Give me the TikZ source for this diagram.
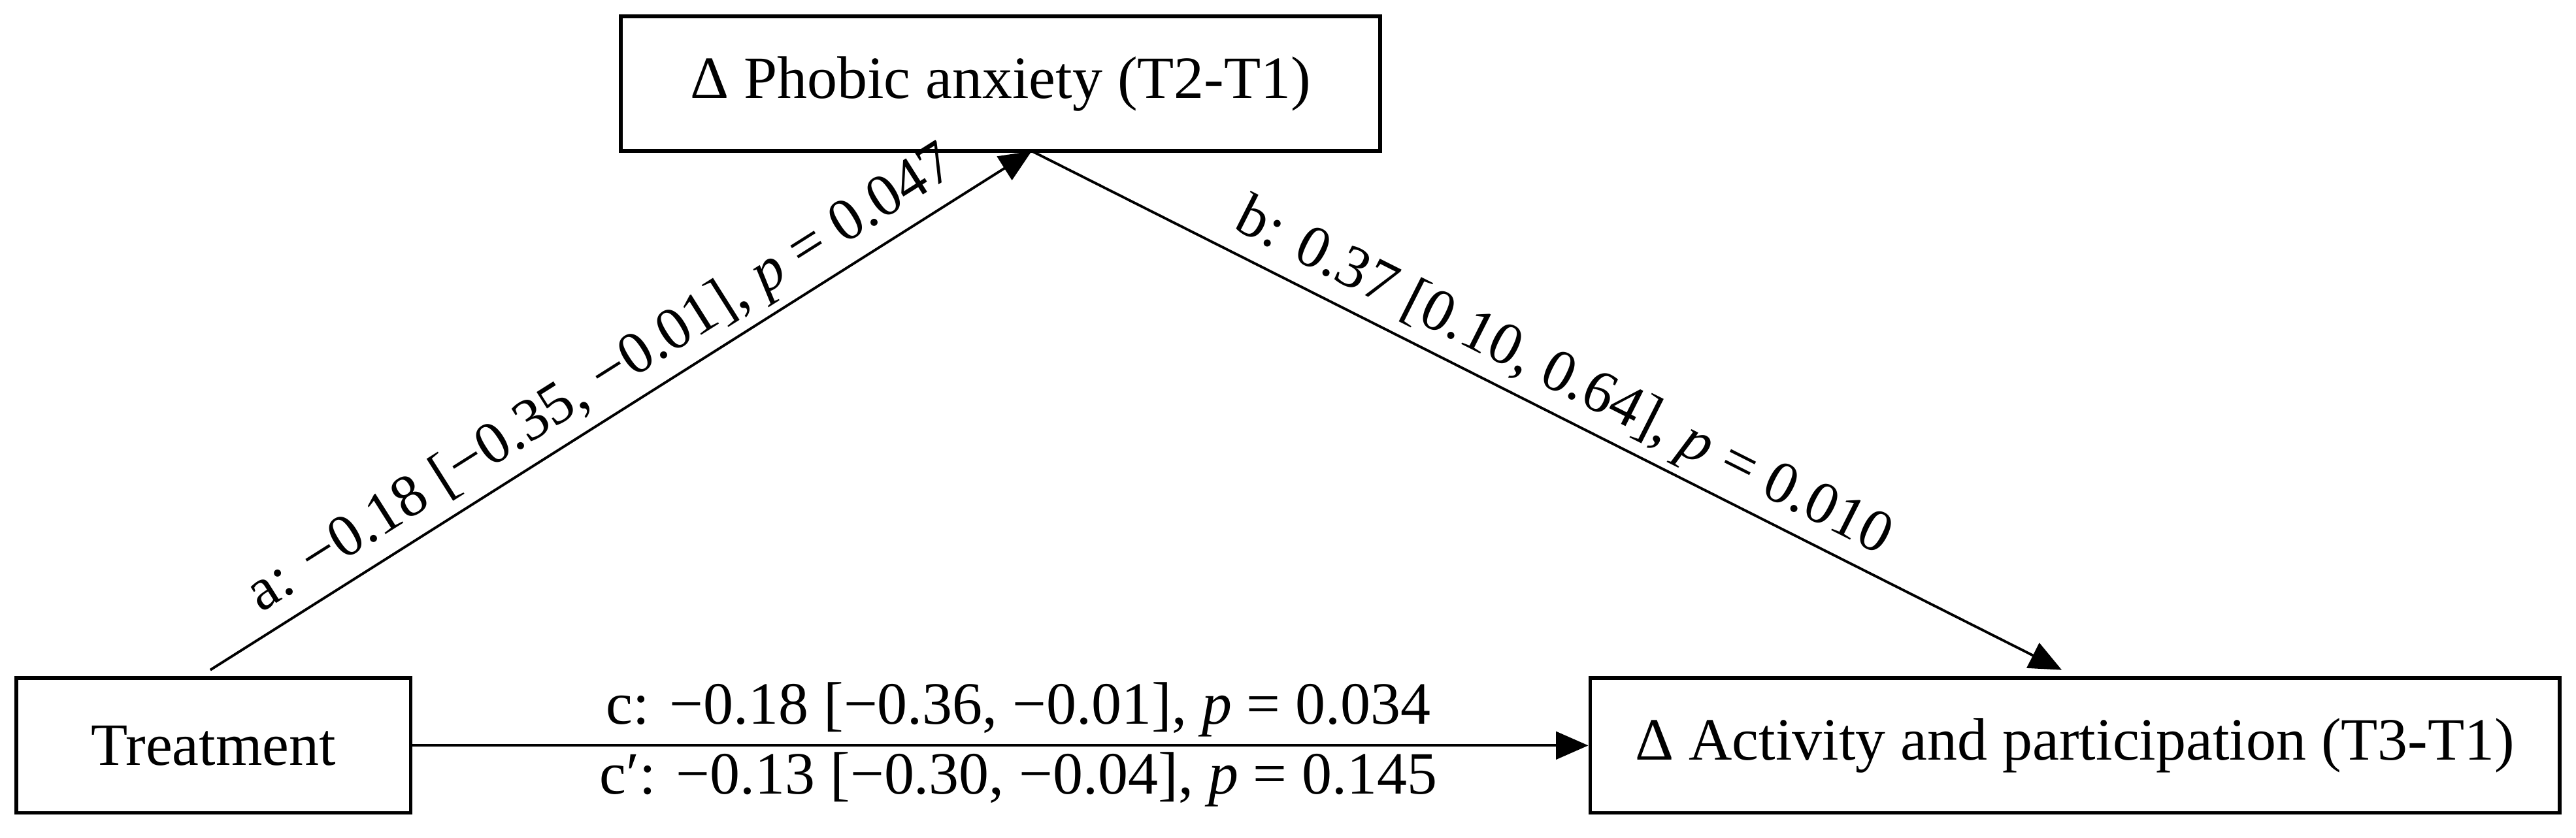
\documentclass[tikz,border=0pt]{standalone}
\usepackage{fontspec}
\setmainfont{Liberation Serif}
\usetikzlibrary{arrows.meta}
\begin{document}
\begin{tikzpicture}[x=0.025cm,y=-0.025cm,
  box/.style={draw,line width=1.6pt,minimum height=2.05cm,inner sep=0pt,font=\fontsize{26}{30}\selectfont},
  arr/.style={line width=1.1pt,-{Triangle[length=14pt,width=12pt]}},
  lab/.style={font=\fontsize{26}{30}\selectfont,sloped,above,inner sep=3pt}]
\useasboundingbox (0,0) rectangle (1568,510);
\node[box,minimum width=11.55cm] (m) at (609,51) {Δ Phobic anxiety (T2-T1)};
\node[box,minimum width=6cm] (t) at (130,454) {Treatment};
\node[box,minimum width=14.75cm] (y) at (1263,454) {Δ Activity and participation (T3-T1)};
\coordinate (ts) at (128,408);
\coordinate (me) at (628,92);
\coordinate (ye) at (1255,408);
\draw[arr] (ts) -- node[lab,pos=0.5] {a: −0.18 [−0.35, −0.01], \textit{p} = 0.047} (me);
\draw[arr] (me) -- node[lab,pos=0.5] {b: 0.37 [0.10, 0.64], \textit{p} = 0.010} (ye);
\draw[arr] (t.east) -- (y.west);
\node[font=\fontsize{26}{30}\selectfont,anchor=south,inner sep=2pt] (c) at (620,452) {c: −0.18 [−0.36, −0.01], \textit{p} = 0.034};
\node[font=\fontsize{26}{30}\selectfont,anchor=north,inner sep=2pt] (c2) at (620,455) {c′: −0.13 [−0.30, −0.04], \textit{p} = 0.145};
\end{tikzpicture}
\end{document}
